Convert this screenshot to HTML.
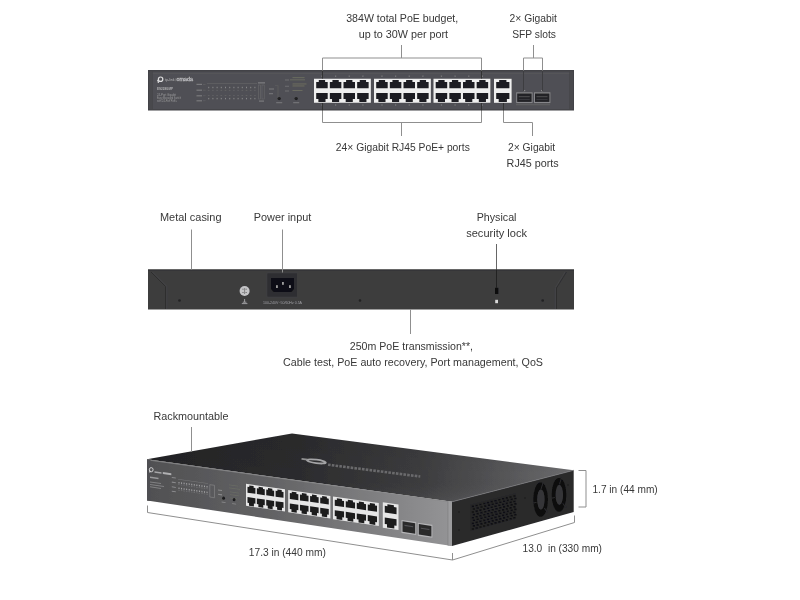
<!DOCTYPE html>
<html><head><meta charset="utf-8"><style>
html,body{margin:0;padding:0;background:#fff;width:800px;height:600px;overflow:hidden}
svg{display:block;font-family:"Liberation Sans",sans-serif;will-change:transform}
</style></head><body>
<svg width="800" height="600" viewBox="0 0 800 600">
<defs><filter id="bl" x="0" y="0" width="800" height="600" filterUnits="userSpaceOnUse"><feGaussianBlur stdDeviation="0.4"/></filter></defs>
<rect width="800" height="600" fill="#fff"/>
<g filter="url(#bl)">
<text x="346.2" y="22.2" textLength="112" lengthAdjust="spacingAndGlyphs" font-size="11.7" fill="#383838" >384W total PoE budget,</text>
<text x="358.7" y="37.9" textLength="89.4" lengthAdjust="spacingAndGlyphs" font-size="11.7" fill="#383838" >up to 30W per port</text>
<text x="509.6" y="21.8" textLength="47.3" lengthAdjust="spacingAndGlyphs" font-size="11.7" fill="#383838" >2× Gigabit</text>
<text x="512.2" y="37.8" textLength="43.8" lengthAdjust="spacingAndGlyphs" font-size="11.7" fill="#383838" >SFP slots</text>
<text x="335.8" y="151.3" textLength="134" lengthAdjust="spacingAndGlyphs" font-size="11.7" fill="#383838" >24× Gigabit RJ45 PoE+ ports</text>
<text x="508" y="151.3" textLength="47.2" lengthAdjust="spacingAndGlyphs" font-size="11.7" fill="#383838" >2× Gigabit</text>
<text x="506.6" y="167" textLength="52.1" lengthAdjust="spacingAndGlyphs" font-size="11.7" fill="#383838" >RJ45 ports</text>
<text x="160" y="221.2" textLength="61.5" lengthAdjust="spacingAndGlyphs" font-size="11.7" fill="#383838" >Metal casing</text>
<text x="253.8" y="221.2" textLength="57.5" lengthAdjust="spacingAndGlyphs" font-size="11.7" fill="#383838" >Power input</text>
<text x="476.7" y="221" textLength="39.8" lengthAdjust="spacingAndGlyphs" font-size="11.7" fill="#383838" >Physical</text>
<text x="466.2" y="236.7" textLength="60.8" lengthAdjust="spacingAndGlyphs" font-size="11.7" fill="#383838" >security lock</text>
<text x="349.8" y="350.4" textLength="123.2" lengthAdjust="spacingAndGlyphs" font-size="11.7" fill="#383838" >250m PoE transmission**,</text>
<text x="283" y="366.1" textLength="260" lengthAdjust="spacingAndGlyphs" font-size="11.7" fill="#383838" >Cable test, PoE auto recovery, Port management, QoS</text>
<text x="153.5" y="420" textLength="75" lengthAdjust="spacingAndGlyphs" font-size="11.7" fill="#383838" >Rackmountable</text>
<text x="248.8" y="555.5" textLength="77" lengthAdjust="spacingAndGlyphs" font-size="11.7" fill="#383838" >17.3 in (440 mm)</text>
<text x="522.5" y="552" textLength="79.5" lengthAdjust="spacingAndGlyphs" font-size="11.7" fill="#383838" >13.0&#160; in (330 mm)</text>
<text x="592.5" y="493.3" textLength="65.2" lengthAdjust="spacingAndGlyphs" font-size="11.7" fill="#383838" >1.7 in (44 mm)</text>
<rect x="148" y="70" width="426" height="40.5" fill="#424246"/>
<rect x="149.3" y="71.6" width="423.4" height="37.6" fill="#505054"/>
<rect x="149.3" y="73.4" width="423.4" height="0.5" fill="#5a5a5e"/>
<rect x="149.3" y="71.6" width="3" height="37.6" fill="#4a4a4e"/>
<rect x="569.7" y="71.6" width="3" height="37.6" fill="#4a4a4e"/>
<rect x="152.3" y="71.6" width="0.6" height="37.6" fill="#444448"/>
<rect x="569.1" y="71.6" width="0.6" height="37.6" fill="#444448"/>
<circle cx="160.6" cy="79.2" r="2.2" fill="none" stroke="#dcdcde" stroke-width="1.2"/>
<path d="M158.3,79.5 v3.6 M157.2,80.6 h1.6" stroke="#dcdcde" stroke-width="1.1"/>
<text x="165" y="81" textLength="9.5" lengthAdjust="spacingAndGlyphs" font-size="4.2" fill="#b4b4b8">tp-link</text>
<rect x="175.3" y="78.2" width="0.4" height="3" fill="#88888c"/>
<text x="176.5" y="81.2" textLength="16.5" lengthAdjust="spacingAndGlyphs" font-size="4.6" fill="none" stroke="#c0c0c4" stroke-width="0.35">omada</text>
<text x="157" y="89.8" textLength="16" lengthAdjust="spacingAndGlyphs" font-size="3.2" fill="#b0b0b4" font-weight="bold">ES228GMP</text>
<text x="157" y="95.6" textLength="19" lengthAdjust="spacingAndGlyphs" font-size="2.9" fill="#9a9a9e">24-Port Gigabit</text>
<text x="157" y="98.8" textLength="24" lengthAdjust="spacingAndGlyphs" font-size="2.9" fill="#9a9a9e">Easy Managed Switch</text>
<text x="157" y="102" textLength="20" lengthAdjust="spacingAndGlyphs" font-size="2.9" fill="#9a9a9e">with 24-Port PoE+</text>
<rect x="196.5" y="83.8" width="5.5" height="1.2" fill="#7a7a7e"/>
<rect x="203" y="84.0" width="2.5" height="0.7" fill="#616165"/>
<rect x="196.5" y="89.6" width="5.5" height="1.2" fill="#7a7a7e"/>
<rect x="203" y="89.8" width="2.5" height="0.7" fill="#616165"/>
<rect x="196.5" y="95.2" width="5.5" height="1.2" fill="#7a7a7e"/>
<rect x="203" y="95.4" width="2.5" height="0.7" fill="#616165"/>
<rect x="196.5" y="100.2" width="5.5" height="1.2" fill="#7a7a7e"/>
<rect x="203" y="100.4" width="2.5" height="0.7" fill="#616165"/>
<rect x="207" y="83.1" width="50" height="0.5" fill="#6a6a6e"/>
<rect x="208.2" y="86.8" width="1" height="1.4" fill="#86868a"/>
<rect x="208.2" y="97.9" width="1" height="1.4" fill="#86868a"/>
<rect x="207.9" y="89.9" width="1.6" height="0.8" fill="#646468"/>
<rect x="207.9" y="95.0" width="1.6" height="0.8" fill="#646468"/>
<rect x="212.4" y="86.8" width="1" height="1.4" fill="#86868a"/>
<rect x="212.4" y="97.9" width="1" height="1.4" fill="#86868a"/>
<rect x="212.1" y="89.9" width="1.6" height="0.8" fill="#646468"/>
<rect x="212.1" y="95.0" width="1.6" height="0.8" fill="#646468"/>
<rect x="216.6" y="86.8" width="1" height="1.4" fill="#86868a"/>
<rect x="216.6" y="97.9" width="1" height="1.4" fill="#86868a"/>
<rect x="216.3" y="89.9" width="1.6" height="0.8" fill="#646468"/>
<rect x="216.3" y="95.0" width="1.6" height="0.8" fill="#646468"/>
<rect x="220.8" y="86.8" width="1" height="1.4" fill="#86868a"/>
<rect x="220.8" y="97.9" width="1" height="1.4" fill="#86868a"/>
<rect x="220.5" y="89.9" width="1.6" height="0.8" fill="#646468"/>
<rect x="220.5" y="95.0" width="1.6" height="0.8" fill="#646468"/>
<rect x="225" y="86.8" width="1" height="1.4" fill="#86868a"/>
<rect x="225" y="97.9" width="1" height="1.4" fill="#86868a"/>
<rect x="224.7" y="89.9" width="1.6" height="0.8" fill="#646468"/>
<rect x="224.7" y="95.0" width="1.6" height="0.8" fill="#646468"/>
<rect x="229.2" y="86.8" width="1" height="1.4" fill="#86868a"/>
<rect x="229.2" y="97.9" width="1" height="1.4" fill="#86868a"/>
<rect x="228.9" y="89.9" width="1.6" height="0.8" fill="#646468"/>
<rect x="228.9" y="95.0" width="1.6" height="0.8" fill="#646468"/>
<rect x="233.4" y="86.8" width="1" height="1.4" fill="#86868a"/>
<rect x="233.4" y="97.9" width="1" height="1.4" fill="#86868a"/>
<rect x="233.1" y="89.9" width="1.6" height="0.8" fill="#646468"/>
<rect x="233.1" y="95.0" width="1.6" height="0.8" fill="#646468"/>
<rect x="237.6" y="86.8" width="1" height="1.4" fill="#86868a"/>
<rect x="237.6" y="97.9" width="1" height="1.4" fill="#86868a"/>
<rect x="237.3" y="89.9" width="1.6" height="0.8" fill="#646468"/>
<rect x="237.3" y="95.0" width="1.6" height="0.8" fill="#646468"/>
<rect x="241.8" y="86.8" width="1" height="1.4" fill="#86868a"/>
<rect x="241.8" y="97.9" width="1" height="1.4" fill="#86868a"/>
<rect x="241.5" y="89.9" width="1.6" height="0.8" fill="#646468"/>
<rect x="241.5" y="95.0" width="1.6" height="0.8" fill="#646468"/>
<rect x="246" y="86.8" width="1" height="1.4" fill="#86868a"/>
<rect x="246" y="97.9" width="1" height="1.4" fill="#86868a"/>
<rect x="245.7" y="89.9" width="1.6" height="0.8" fill="#646468"/>
<rect x="245.7" y="95.0" width="1.6" height="0.8" fill="#646468"/>
<rect x="250.2" y="86.8" width="1" height="1.4" fill="#86868a"/>
<rect x="250.2" y="97.9" width="1" height="1.4" fill="#86868a"/>
<rect x="249.9" y="89.9" width="1.6" height="0.8" fill="#646468"/>
<rect x="249.9" y="95.0" width="1.6" height="0.8" fill="#646468"/>
<rect x="254.4" y="86.8" width="1" height="1.4" fill="#86868a"/>
<rect x="254.4" y="97.9" width="1" height="1.4" fill="#86868a"/>
<rect x="254.1" y="89.9" width="1.6" height="0.8" fill="#646468"/>
<rect x="254.1" y="95.0" width="1.6" height="0.8" fill="#646468"/>
<rect x="258" y="82.2" width="7" height="1.3" fill="#7a7a7e"/>
<rect x="258.5" y="85" width="2.2" height="14" fill="none" stroke="#6c6c70" stroke-width="0.5"/>
<rect x="262" y="85" width="2.2" height="14" fill="none" stroke="#6c6c70" stroke-width="0.5"/>
<rect x="259" y="100.5" width="5" height="1.2" fill="#7a7a7e"/>
<rect x="269" y="88.5" width="5" height="1" fill="#7a7a7e"/>
<rect x="269" y="93.2" width="4" height="1" fill="#7a7a7e"/>
<path d="M275,85.5 h3 v13" stroke="#606064" stroke-width="0.5" fill="none"/>
<circle cx="279.2" cy="98.6" r="1.7" fill="#202022"/>
<rect x="276.2" y="102.2" width="6" height="1" fill="#7a7a7e"/>
<circle cx="296.2" cy="98.6" r="1.7" fill="#202022"/>
<rect x="293.2" y="102.2" width="6" height="1" fill="#7a7a7e"/>
<rect x="292.5" y="77.2" width="12" height="0.9" fill="#6c6e60"/>
<rect x="290" y="79.4" width="15" height="0.9" fill="#6c6e60"/>
<rect x="292.5" y="83.5" width="14" height="0.9" fill="#6c6e60"/>
<rect x="292.5" y="85.5" width="12" height="0.9" fill="#6c6e60"/>
<rect x="292.5" y="90" width="10" height="0.9" fill="#6c6e60"/>
<rect x="285" y="79.6" width="4" height="0.8" fill="#76767a"/>
<rect x="285" y="85.8" width="4" height="0.8" fill="#76767a"/>
<rect x="285" y="90.6" width="4" height="0.8" fill="#76767a"/>
<path d="M314,78.8 L370.85,78.8 L370.85,102.8 L314,102.8Z" fill="#efefef" />
<path d="M316.2,81.9 L318.79,81.9 L318.79,80.1 L325.11,80.1 L325.11,81.9 L327.7,81.9 L327.7,88.2 L316.2,88.2Z" fill="#1f1f21" />
<path d="M316.2,93 L327.7,93 L327.7,99.1 L325.51,99.1 L325.51,102.1 L318.38,102.1 L318.38,99.1 L316.2,99.1Z" fill="#1f1f21" />
<path d="M329.85,81.9 L332.44,81.9 L332.44,80.1 L338.76,80.1 L338.76,81.9 L341.35,81.9 L341.35,88.2 L329.85,88.2Z" fill="#1f1f21" />
<path d="M329.85,93 L341.35,93 L341.35,99.1 L339.16,99.1 L339.16,102.1 L332.03,102.1 L332.03,99.1 L329.85,99.1Z" fill="#1f1f21" />
<path d="M343.5,81.9 L346.09,81.9 L346.09,80.1 L352.41,80.1 L352.41,81.9 L355,81.9 L355,88.2 L343.5,88.2Z" fill="#1f1f21" />
<path d="M343.5,93 L355,93 L355,99.1 L352.81,99.1 L352.81,102.1 L345.69,102.1 L345.69,99.1 L343.5,99.1Z" fill="#1f1f21" />
<path d="M357.15,81.9 L359.74,81.9 L359.74,80.1 L366.06,80.1 L366.06,81.9 L368.65,81.9 L368.65,88.2 L357.15,88.2Z" fill="#1f1f21" />
<path d="M357.15,93 L368.65,93 L368.65,99.1 L366.46,99.1 L366.46,102.1 L359.33,102.1 L359.33,99.1 L357.15,99.1Z" fill="#1f1f21" />
<path d="M374,78.8 L430.85,78.8 L430.85,102.8 L374,102.8Z" fill="#efefef" />
<path d="M376.2,81.9 L378.79,81.9 L378.79,80.1 L385.11,80.1 L385.11,81.9 L387.7,81.9 L387.7,88.2 L376.2,88.2Z" fill="#1f1f21" />
<path d="M376.2,93 L387.7,93 L387.7,99.1 L385.51,99.1 L385.51,102.1 L378.38,102.1 L378.38,99.1 L376.2,99.1Z" fill="#1f1f21" />
<path d="M389.85,81.9 L392.44,81.9 L392.44,80.1 L398.76,80.1 L398.76,81.9 L401.35,81.9 L401.35,88.2 L389.85,88.2Z" fill="#1f1f21" />
<path d="M389.85,93 L401.35,93 L401.35,99.1 L399.16,99.1 L399.16,102.1 L392.03,102.1 L392.03,99.1 L389.85,99.1Z" fill="#1f1f21" />
<path d="M403.5,81.9 L406.09,81.9 L406.09,80.1 L412.41,80.1 L412.41,81.9 L415,81.9 L415,88.2 L403.5,88.2Z" fill="#1f1f21" />
<path d="M403.5,93 L415,93 L415,99.1 L412.81,99.1 L412.81,102.1 L405.69,102.1 L405.69,99.1 L403.5,99.1Z" fill="#1f1f21" />
<path d="M417.15,81.9 L419.74,81.9 L419.74,80.1 L426.06,80.1 L426.06,81.9 L428.65,81.9 L428.65,88.2 L417.15,88.2Z" fill="#1f1f21" />
<path d="M417.15,93 L428.65,93 L428.65,99.1 L426.46,99.1 L426.46,102.1 L419.33,102.1 L419.33,99.1 L417.15,99.1Z" fill="#1f1f21" />
<path d="M433.5,78.8 L490.35,78.8 L490.35,102.8 L433.5,102.8Z" fill="#efefef" />
<path d="M435.7,81.9 L438.29,81.9 L438.29,80.1 L444.61,80.1 L444.61,81.9 L447.2,81.9 L447.2,88.2 L435.7,88.2Z" fill="#1f1f21" />
<path d="M435.7,93 L447.2,93 L447.2,99.1 L445.01,99.1 L445.01,102.1 L437.88,102.1 L437.88,99.1 L435.7,99.1Z" fill="#1f1f21" />
<path d="M449.35,81.9 L451.94,81.9 L451.94,80.1 L458.26,80.1 L458.26,81.9 L460.85,81.9 L460.85,88.2 L449.35,88.2Z" fill="#1f1f21" />
<path d="M449.35,93 L460.85,93 L460.85,99.1 L458.66,99.1 L458.66,102.1 L451.53,102.1 L451.53,99.1 L449.35,99.1Z" fill="#1f1f21" />
<path d="M463,81.9 L465.59,81.9 L465.59,80.1 L471.91,80.1 L471.91,81.9 L474.5,81.9 L474.5,88.2 L463,88.2Z" fill="#1f1f21" />
<path d="M463,93 L474.5,93 L474.5,99.1 L472.31,99.1 L472.31,102.1 L465.19,102.1 L465.19,99.1 L463,99.1Z" fill="#1f1f21" />
<path d="M476.65,81.9 L479.24,81.9 L479.24,80.1 L485.56,80.1 L485.56,81.9 L488.15,81.9 L488.15,88.2 L476.65,88.2Z" fill="#1f1f21" />
<path d="M476.65,93 L488.15,93 L488.15,99.1 L485.96,99.1 L485.96,102.1 L478.83,102.1 L478.83,99.1 L476.65,99.1Z" fill="#1f1f21" />
<path d="M494,78.8 L511.6,78.8 L511.6,102.8 L494,102.8Z" fill="#efefef" />
<path d="M496.2,81.9 L499.17,81.9 L499.17,80.1 L506.43,80.1 L506.43,81.9 L509.4,81.9 L509.4,88.2 L496.2,88.2Z" fill="#1f1f21" />
<path d="M496.2,93 L509.4,93 L509.4,99.1 L506.89,99.1 L506.89,102.1 L498.71,102.1 L498.71,99.1 L496.2,99.1Z" fill="#1f1f21" />
<rect x="321.35" y="75.5" width="1.2" height="1.4" fill="#77777b"/>
<rect x="321.35" y="104.3" width="1.2" height="1.4" fill="#77777b"/>
<rect x="335" y="75.5" width="1.2" height="1.4" fill="#77777b"/>
<rect x="335" y="104.3" width="1.2" height="1.4" fill="#77777b"/>
<rect x="348.65" y="75.5" width="1.2" height="1.4" fill="#77777b"/>
<rect x="348.65" y="104.3" width="1.2" height="1.4" fill="#77777b"/>
<rect x="362.3" y="75.5" width="1.2" height="1.4" fill="#77777b"/>
<rect x="362.3" y="104.3" width="1.2" height="1.4" fill="#77777b"/>
<rect x="381.35" y="75.5" width="1.2" height="1.4" fill="#77777b"/>
<rect x="381.35" y="104.3" width="1.2" height="1.4" fill="#77777b"/>
<rect x="395" y="75.5" width="1.2" height="1.4" fill="#77777b"/>
<rect x="395" y="104.3" width="1.2" height="1.4" fill="#77777b"/>
<rect x="408.65" y="75.5" width="1.2" height="1.4" fill="#77777b"/>
<rect x="408.65" y="104.3" width="1.2" height="1.4" fill="#77777b"/>
<rect x="422.3" y="75.5" width="1.2" height="1.4" fill="#77777b"/>
<rect x="422.3" y="104.3" width="1.2" height="1.4" fill="#77777b"/>
<rect x="440.85" y="75.5" width="1.2" height="1.4" fill="#77777b"/>
<rect x="440.85" y="104.3" width="1.2" height="1.4" fill="#77777b"/>
<rect x="454.5" y="75.5" width="1.2" height="1.4" fill="#77777b"/>
<rect x="454.5" y="104.3" width="1.2" height="1.4" fill="#77777b"/>
<rect x="468.15" y="75.5" width="1.2" height="1.4" fill="#77777b"/>
<rect x="468.15" y="104.3" width="1.2" height="1.4" fill="#77777b"/>
<rect x="481.8" y="75.5" width="1.2" height="1.4" fill="#77777b"/>
<rect x="481.8" y="104.3" width="1.2" height="1.4" fill="#77777b"/>
<rect x="516.2" y="92.3" width="16.4" height="10.8" fill="#86868a"/>
<rect x="517.2" y="93.5" width="14.4" height="8.4" fill="#222225"/>
<rect x="518.7" y="96.2" width="11" height="1" fill="#505054"/>
<rect x="518.7" y="99" width="11" height="0.8" fill="#404044"/>
<rect x="523.2" y="90" width="2" height="1.2" fill="#8a8a8e"/>
<rect x="534" y="92.3" width="16.4" height="10.8" fill="#86868a"/>
<rect x="535" y="93.5" width="14.4" height="8.4" fill="#222225"/>
<rect x="536.5" y="96.2" width="11" height="1" fill="#505054"/>
<rect x="536.5" y="99" width="11" height="0.8" fill="#404044"/>
<rect x="541" y="90" width="2" height="1.2" fill="#8a8a8e"/>
<rect x="516" y="104.5" width="34" height="0.6" fill="#6a6a6e"/>
<path d="M322.5,77 L322.5,58 L481.5,58 L481.5,77" stroke="#8f8f8f" stroke-width="1" fill="none"/>
<path d="M401.5,58 L401.5,45" stroke="#8f8f8f" stroke-width="1" fill="none"/>
<path d="M523.5,91 L523.5,58 L542.5,58 L542.5,91" stroke="#8f8f8f" stroke-width="1" fill="none"/>
<path d="M533.5,58 L533.5,45" stroke="#8f8f8f" stroke-width="1" fill="none"/>
<path d="M322.5,70.5 L322.5,78.5" stroke="#333" stroke-width="1" fill="none"/>
<path d="M481.5,70.5 L481.5,78.5" stroke="#333" stroke-width="1" fill="none"/>
<path d="M523.5,70.5 L523.5,91" stroke="#3c3c40" stroke-width="1" fill="none"/>
<path d="M542.5,70.5 L542.5,91" stroke="#3c3c40" stroke-width="1" fill="none"/>
<path d="M322.5,103 L322.5,122.5 L481.5,122.5 L481.5,103" stroke="#8f8f8f" stroke-width="1" fill="none"/>
<path d="M401.5,122.5 L401.5,136" stroke="#8f8f8f" stroke-width="1" fill="none"/>
<path d="M503.5,103 L503.5,122.5 L532.5,122.5 L532.5,136" stroke="#8f8f8f" stroke-width="1" fill="none"/>
<path d="M322.5,103 L322.5,110.5" stroke="#333" stroke-width="1" fill="none"/>
<path d="M481.5,103 L481.5,110.5" stroke="#333" stroke-width="1" fill="none"/>
<path d="M503.5,103 L503.5,110.5" stroke="#333" stroke-width="1" fill="none"/>
<rect x="148" y="269.5" width="426" height="40" fill="#3c3c3e"/>
<rect x="148" y="269.5" width="426" height="1.2" fill="#333335"/>
<path d="M151,272 L165.5,286.5 L165.5,309" stroke="#2c2c2e" stroke-width="0.9" fill="none"/>
<path d="M152.5,272 L166.8,286.3 L166.8,309" stroke="#4a4a4c" stroke-width="0.6" fill="none"/>
<path d="M566.5,272 L556.5,288 L556.5,309" stroke="#2c2c2e" stroke-width="0.9" fill="none"/>
<path d="M565,272 L555.3,287.6 L555.3,309" stroke="#4a4a4c" stroke-width="0.6" fill="none"/>
<circle cx="179.5" cy="300.5" r="1.3" fill="#222"/>
<circle cx="360" cy="300.5" r="1.3" fill="#222"/>
<circle cx="542.7" cy="300.5" r="1.3" fill="#222"/>
<rect x="267" y="273" width="30.5" height="24" fill="#2e2e30" stroke="#444446" stroke-width="0.5"/>
<path d="M271,278 h23 v11 l-2.5,3 h-18 l-2.5,-3 z" fill="#111112"/>
<rect x="276.3" y="285.2" width="1.3" height="2.8" fill="#d8d8d8"/>
<rect x="282.3" y="282" width="1.3" height="2.8" fill="#d8d8d8"/>
<rect x="289.3" y="285.2" width="1.3" height="2.8" fill="#d8d8d8"/>
<text x="263" y="304.2" textLength="39" lengthAdjust="spacingAndGlyphs" font-size="3.6" fill="#a0a0a2">100-240V~50/60Hz 0.5A</text>
<circle cx="244.6" cy="291" r="5" fill="#c4c4c6"/>
<path d="M242.2,289.2 h1.6 M245.4,289.2 h1.6 M242.2,292.5 h1.6 M245.4,292.5 h1.6 M244.6,288 v6" stroke="#7a7a7c" stroke-width="0.9"/>
<path d="M241.8,303.6 h5.6 M242.8,302.2 h3.6 M244.6,302 v-3" stroke="#a8a8aa" stroke-width="0.9"/>
<rect x="495" y="287.8" width="3.3" height="6.2" fill="#0a0a0a"/>
<rect x="495.2" y="299.8" width="2.8" height="3.4" fill="#d8d8d8"/>
<path d="M191.5,229.5 L191.5,269.5" stroke="#8f8f8f" stroke-width="1" fill="none"/>
<path d="M282.5,229.5 L282.5,272.5" stroke="#8f8f8f" stroke-width="1" fill="none"/>
<path d="M496.5,244 L496.5,269.5" stroke="#666" stroke-width="1" fill="none"/>
<path d="M496.5,269.5 L496.5,288" stroke="#222" stroke-width="1" fill="none"/>
<path d="M410.5,309.5 L410.5,334" stroke="#8f8f8f" stroke-width="1" fill="none"/>
<defs>
<linearGradient id="gtop" x1="147" y1="470" x2="573" y2="470" gradientUnits="userSpaceOnUse">
<stop offset="0" stop-color="#232325"/><stop offset="0.36" stop-color="#2c2c2e"/><stop offset="0.64" stop-color="#3c3c3e"/><stop offset="0.83" stop-color="#545456"/><stop offset="1" stop-color="#6c6c6e"/></linearGradient>
<linearGradient id="gtop2" x1="0" y1="440" x2="0" y2="500" gradientUnits="userSpaceOnUse">
<stop offset="0" stop-color="#000" stop-opacity="0.05"/><stop offset="0.6" stop-color="#000" stop-opacity="0"/><stop offset="1" stop-color="#fff" stop-opacity="0.05"/></linearGradient>
<linearGradient id="gfront" x1="147" y1="0" x2="452" y2="0" gradientUnits="userSpaceOnUse">
<stop offset="0" stop-color="#505052"/><stop offset="0.4" stop-color="#626264"/><stop offset="1" stop-color="#949496"/></linearGradient>
</defs>
<path d="M147,459.3 L292,433.4 L573.7,470.3 L452,501.7 Z" fill="url(#gtop)"/>
<path d="M147,459.3 L292,433.4 L573.7,470.3 L452,501.7 Z" fill="url(#gtop2)"/>
<path d="M147,459.3 L452,501.7 L452,546 L147,500.5 Z" fill="url(#gfront)"/>
<path d="M147,459.8 L452,502.2" stroke="#8a8a8c" stroke-width="0.8"/>
<path d="M447.8,501.11 L452,501.69 L452,546.01 L447.8,545.38Z" fill="#9c9c9e" />
<path d="M447.6,501.08 L448.3,501.18 L448.3,545.45 L447.6,545.35Z" fill="#7c7c7e" />
<path d="M147,459.3 L150.5,459.79 L150.5,501.02 L147,500.5Z" fill="#505052" />
<path d="M452,501.7 L573.7,470.3 L573.7,512 L452,546 Z" fill="#29292b"/>
<path d="M452.3,501.7 L573.7,470.3" stroke="#7a7a7c" stroke-width="0.8"/>
<path d="M246,483.81 L285,489.33 L285,511.6 L246,505.87Z" fill="#e6e6e6" />
<path d="M247.51,486.87 L249.28,487.12 L249.28,485.47 L253.62,486.08 L253.62,487.74 L255.4,487.99 L255.4,493.8 L247.51,492.66Z" fill="#1c1c1e" />
<path d="M247.51,497.08 L255.4,498.22 L255.4,503.84 L253.9,503.62 L253.9,506.39 L249.01,505.67 L249.01,502.91 L247.51,502.69Z" fill="#1c1c1e" />
<path d="M256.87,488.2 L258.65,488.45 L258.65,486.8 L262.99,487.41 L262.99,489.07 L264.76,489.32 L264.76,495.14 L256.87,494.01Z" fill="#1c1c1e" />
<path d="M256.87,498.43 L264.76,499.58 L264.76,505.21 L263.26,504.99 L263.26,507.76 L258.37,507.04 L258.37,504.28 L256.87,504.06Z" fill="#1c1c1e" />
<path d="M266.24,489.53 L268.01,489.79 L268.01,488.12 L272.35,488.74 L272.35,490.4 L274.13,490.66 L274.13,496.49 L266.24,495.35Z" fill="#1c1c1e" />
<path d="M266.24,499.79 L274.13,500.93 L274.13,506.58 L272.63,506.36 L272.63,509.13 L267.74,508.42 L267.74,505.64 L266.24,505.42Z" fill="#1c1c1e" />
<path d="M275.6,490.87 L277.38,491.12 L277.38,489.45 L281.72,490.07 L281.72,491.74 L283.49,491.99 L283.49,497.83 L275.6,496.7Z" fill="#1c1c1e" />
<path d="M275.6,501.14 L283.49,502.29 L283.49,507.95 L281.99,507.73 L281.99,510.51 L277.1,509.79 L277.1,507.01 L275.6,506.79Z" fill="#1c1c1e" />
<path d="M288.2,489.97 L330.4,495.95 L330.4,518.47 L288.2,512.26Z" fill="#e6e6e6" />
<path d="M289.83,493.09 L291.75,493.36 L291.75,491.69 L296.45,492.35 L296.45,494.03 L298.37,494.3 L298.37,500.17 L289.83,498.94Z" fill="#1c1c1e" />
<path d="M289.83,503.4 L298.37,504.63 L298.37,510.31 L296.75,510.08 L296.75,512.87 L291.46,512.09 L291.46,509.3 L289.83,509.07Z" fill="#1c1c1e" />
<path d="M299.97,494.53 L301.89,494.8 L301.89,493.12 L306.58,493.79 L306.58,495.47 L308.5,495.74 L308.5,501.62 L299.97,500.4Z" fill="#1c1c1e" />
<path d="M299.97,504.87 L308.5,506.1 L308.5,511.79 L306.88,511.56 L306.88,514.36 L301.59,513.58 L301.59,510.78 L299.97,510.55Z" fill="#1c1c1e" />
<path d="M310.1,495.97 L312.02,496.24 L312.02,494.56 L316.71,495.23 L316.71,496.91 L318.63,497.19 L318.63,503.08 L310.1,501.85Z" fill="#1c1c1e" />
<path d="M310.1,506.33 L318.63,507.57 L318.63,513.28 L317.01,513.04 L317.01,515.84 L311.72,515.07 L311.72,512.26 L310.1,512.03Z" fill="#1c1c1e" />
<path d="M320.23,497.41 L322.15,497.69 L322.15,496 L326.85,496.67 L326.85,498.35 L328.77,498.63 L328.77,504.54 L320.23,503.31Z" fill="#1c1c1e" />
<path d="M320.23,507.8 L328.77,509.04 L328.77,514.76 L327.14,514.52 L327.14,517.33 L321.85,516.55 L321.85,513.75 L320.23,513.51Z" fill="#1c1c1e" />
<path d="M333,496.52 L378.8,503.01 L378.8,526.07 L333,519.34Z" fill="#e6e6e6" />
<path d="M334.77,499.72 L336.86,500.01 L336.86,498.3 L341.95,499.02 L341.95,500.74 L344.04,501.04 L344.04,507.04 L334.77,505.71Z" fill="#1c1c1e" />
<path d="M334.77,510.28 L344.04,511.62 L344.04,517.43 L342.28,517.18 L342.28,520.04 L336.53,519.19 L336.53,516.34 L334.77,516.08Z" fill="#1c1c1e" />
<path d="M345.77,501.28 L347.85,501.58 L347.85,499.86 L352.95,500.58 L352.95,502.3 L355.03,502.6 L355.03,508.62 L345.77,507.29Z" fill="#1c1c1e" />
<path d="M345.77,511.87 L355.03,513.21 L355.03,519.04 L353.27,518.78 L353.27,521.65 L347.53,520.81 L347.53,517.94 L345.77,517.69Z" fill="#1c1c1e" />
<path d="M356.77,502.85 L358.85,503.14 L358.85,501.42 L363.95,502.15 L363.95,503.87 L366.03,504.17 L366.03,510.2 L356.77,508.87Z" fill="#1c1c1e" />
<path d="M356.77,513.46 L366.03,514.8 L366.03,520.65 L364.27,520.39 L364.27,523.27 L358.53,522.42 L358.53,519.55 L356.77,519.3Z" fill="#1c1c1e" />
<path d="M367.76,504.41 L369.85,504.71 L369.85,502.98 L374.94,503.71 L374.94,505.44 L377.03,505.73 L377.03,511.79 L367.76,510.45Z" fill="#1c1c1e" />
<path d="M367.76,515.06 L377.03,516.4 L377.03,522.26 L375.27,522 L375.27,524.88 L369.52,524.04 L369.52,521.16 L367.76,520.9Z" fill="#1c1c1e" />
<path d="M382.8,502.18 L398.5,504.4 L398.5,529.97 L382.8,527.65Z" fill="#e6e6e6" />
<path d="M384.76,505.75 L387.41,506.13 L387.41,504.22 L393.89,505.14 L393.89,507.05 L396.54,507.43 L396.54,514.13 L384.76,512.44Z" fill="#1c1c1e" />
<path d="M384.76,517.54 L396.54,519.24 L396.54,525.74 L394.3,525.41 L394.3,528.6 L387,527.53 L387,524.34 L384.76,524.01Z" fill="#1c1c1e" />
<path d="M401.5,519.96 L416.2,522.09 L416.2,535.07 L401.5,532.9Z" fill="#b4b4b6" />
<path d="M402.5,521.3 L415.2,523.14 L415.2,533.63 L402.5,531.75Z" fill="#2a2a2c" />
<path d="M404.5,524.87 L413.2,526.14 L413.2,527.34 L404.5,526.07Z" fill="#555557" />
<path d="M417.8,522.72 L432.4,524.84 L432.4,537.87 L417.8,535.71Z" fill="#b4b4b6" />
<path d="M418.8,524.06 L431.4,525.89 L431.4,536.42 L418.8,534.56Z" fill="#2a2a2c" />
<path d="M420.8,527.65 L429.4,528.91 L429.4,530.11 L420.8,528.85Z" fill="#555557" />
<ellipse cx="151.2" cy="469.73" rx="1.9" ry="2.1" fill="none" stroke="#d0d0d2" stroke-width="1"/>
<path d="M149.3,469.55 L150.2,469.68 L150.2,472.68 L149.3,472.55Z" fill="#d0d0d2" />
<path d="M154.5,471.22 L161.5,472.22 L161.5,473.63 L154.5,472.63Z" fill="#a6a6a8" />
<path d="M162.8,472.12 L171.3,473.32 L171.3,475.21 L162.8,474Z" fill="#b0b0b2" />
<path d="M150,476.58 L158.5,477.8 L158.5,479.21 L150,477.99Z" fill="#9a9a9c" />
<path d="M150,481.46 L161,483.04 L161,484.08 L150,482.49Z" fill="#828284" />
<path d="M150,483.89 L164,485.92 L164,486.96 L150,484.92Z" fill="#828284" />
<path d="M150,486.33 L161,487.93 L161,488.96 L150,487.36Z" fill="#828284" />
<path d="M171.8,476.88 L175.8,477.45 L175.8,478.49 L171.8,477.92Z" fill="#8a8a8c" />
<path d="M171.8,481.59 L175.8,482.16 L175.8,483.2 L171.8,482.63Z" fill="#8a8a8c" />
<path d="M171.8,486.3 L175.8,486.88 L175.8,487.92 L171.8,487.34Z" fill="#8a8a8c" />
<path d="M171.8,490.63 L175.8,491.22 L175.8,492.25 L171.8,491.67Z" fill="#8a8a8c" />
<path d="M178,479.08 L208,483.37 L208,483.84 L178,479.55Z" fill="#78787a" />
<path d="M178.5,481.89 L179.5,482.03 L179.5,483.54 L178.5,483.4Z" fill="#a4a4a6" />
<path d="M178.5,487.46 L179.5,487.6 L179.5,489.11 L178.5,488.97Z" fill="#a4a4a6" />
<path d="M178.3,484.22 L179.7,484.42 L179.7,485.08 L178.3,484.88Z" fill="#767678" />
<path d="M178.3,489.79 L179.7,489.99 L179.7,490.65 L178.3,490.45Z" fill="#767678" />
<path d="M181.05,482.26 L182.05,482.4 L182.05,483.91 L181.05,483.77Z" fill="#a4a4a6" />
<path d="M181.05,487.83 L182.05,487.97 L182.05,489.48 L181.05,489.34Z" fill="#a4a4a6" />
<path d="M180.85,484.59 L182.25,484.79 L182.25,485.45 L180.85,485.25Z" fill="#767678" />
<path d="M180.85,490.16 L182.25,490.36 L182.25,491.02 L180.85,490.82Z" fill="#767678" />
<path d="M183.6,482.62 L184.6,482.77 L184.6,484.28 L183.6,484.13Z" fill="#a4a4a6" />
<path d="M183.6,488.2 L184.6,488.34 L184.6,489.85 L183.6,489.71Z" fill="#a4a4a6" />
<path d="M183.4,484.96 L184.8,485.16 L184.8,485.82 L183.4,485.62Z" fill="#767678" />
<path d="M183.4,490.53 L184.8,490.73 L184.8,491.4 L183.4,491.19Z" fill="#767678" />
<path d="M186.15,482.99 L187.15,483.13 L187.15,484.65 L186.15,484.5Z" fill="#a4a4a6" />
<path d="M186.15,488.57 L187.15,488.71 L187.15,490.22 L186.15,490.08Z" fill="#a4a4a6" />
<path d="M185.95,485.32 L187.35,485.53 L187.35,486.19 L185.95,485.99Z" fill="#767678" />
<path d="M185.95,490.9 L187.35,491.11 L187.35,491.77 L185.95,491.56Z" fill="#767678" />
<path d="M188.7,483.35 L189.7,483.5 L189.7,485.01 L188.7,484.87Z" fill="#a4a4a6" />
<path d="M188.7,488.94 L189.7,489.08 L189.7,490.6 L188.7,490.45Z" fill="#a4a4a6" />
<path d="M188.5,485.69 L189.9,485.89 L189.9,486.56 L188.5,486.35Z" fill="#767678" />
<path d="M188.5,491.27 L189.9,491.48 L189.9,492.14 L188.5,491.93Z" fill="#767678" />
<path d="M191.25,483.72 L192.25,483.86 L192.25,485.38 L191.25,485.24Z" fill="#a4a4a6" />
<path d="M191.25,489.31 L192.25,489.45 L192.25,490.97 L191.25,490.82Z" fill="#a4a4a6" />
<path d="M191.05,486.06 L192.45,486.26 L192.45,486.92 L191.05,486.72Z" fill="#767678" />
<path d="M191.05,491.64 L192.45,491.85 L192.45,492.51 L191.05,492.31Z" fill="#767678" />
<path d="M193.8,484.09 L194.8,484.23 L194.8,485.75 L193.8,485.6Z" fill="#a4a4a6" />
<path d="M193.8,489.67 L194.8,489.82 L194.8,491.34 L193.8,491.19Z" fill="#a4a4a6" />
<path d="M193.6,486.43 L195,486.63 L195,487.29 L193.6,487.09Z" fill="#767678" />
<path d="M193.6,492.01 L195,492.22 L195,492.88 L193.6,492.68Z" fill="#767678" />
<path d="M196.35,484.45 L197.35,484.6 L197.35,486.11 L196.35,485.97Z" fill="#a4a4a6" />
<path d="M196.35,490.04 L197.35,490.19 L197.35,491.71 L196.35,491.56Z" fill="#a4a4a6" />
<path d="M196.15,486.79 L197.55,486.99 L197.55,487.66 L196.15,487.46Z" fill="#767678" />
<path d="M196.15,492.38 L197.55,492.59 L197.55,493.25 L196.15,493.05Z" fill="#767678" />
<path d="M198.9,484.82 L199.9,484.96 L199.9,486.48 L198.9,486.34Z" fill="#a4a4a6" />
<path d="M198.9,490.41 L199.9,490.56 L199.9,492.08 L198.9,491.93Z" fill="#a4a4a6" />
<path d="M198.7,487.16 L200.1,487.36 L200.1,488.03 L198.7,487.82Z" fill="#767678" />
<path d="M198.7,492.76 L200.1,492.96 L200.1,493.62 L198.7,493.42Z" fill="#767678" />
<path d="M201.45,485.18 L202.45,485.33 L202.45,486.85 L201.45,486.7Z" fill="#a4a4a6" />
<path d="M201.45,490.78 L202.45,490.93 L202.45,492.45 L201.45,492.3Z" fill="#a4a4a6" />
<path d="M201.25,487.53 L202.65,487.73 L202.65,488.39 L201.25,488.19Z" fill="#767678" />
<path d="M201.25,493.13 L202.65,493.33 L202.65,493.99 L201.25,493.79Z" fill="#767678" />
<path d="M204,485.55 L205,485.69 L205,487.21 L204,487.07Z" fill="#a4a4a6" />
<path d="M204,491.15 L205,491.3 L205,492.82 L204,492.67Z" fill="#a4a4a6" />
<path d="M203.8,487.89 L205.2,488.1 L205.2,488.76 L203.8,488.56Z" fill="#767678" />
<path d="M203.8,493.5 L205.2,493.7 L205.2,494.37 L203.8,494.16Z" fill="#767678" />
<path d="M206.55,485.92 L207.55,486.06 L207.55,487.58 L206.55,487.44Z" fill="#a4a4a6" />
<path d="M206.55,491.52 L207.55,491.67 L207.55,493.19 L206.55,493.04Z" fill="#a4a4a6" />
<path d="M206.35,488.26 L207.75,488.46 L207.75,489.13 L206.35,488.93Z" fill="#767678" />
<path d="M206.35,493.87 L207.75,494.07 L207.75,494.74 L206.35,494.53Z" fill="#767678" />
<path d="M209.8,484.67 L214.5,485.34 L214.5,497.72 L209.8,497.03Z" fill="none" stroke="#8a8a8c" stroke-width="0.6"/>
<path d="M218,489.46 L222,490.04 L222,491.09 L218,490.51Z" fill="#8a8a8c" />
<path d="M218,493.75 L222,494.33 L222,495.38 L218,494.8Z" fill="#8a8a8c" />
<path d="M229,484.55 L238,485.83 L238,486.6 L229,485.32Z" fill="#6a6c64" />
<path d="M229,487.42 L240,488.99 L240,489.76 L229,488.18Z" fill="#6a6c64" />
<path d="M230,491.38 L239,492.68 L239,493.44 L230,492.15Z" fill="#6a6c64" />
<path d="M230,494.25 L239,495.55 L239,496.32 L230,495.01Z" fill="#6a6c64" />
<path d="M230,497.59 L237,498.61 L237,499.38 L230,498.36Z" fill="#6a6c64" />
<ellipse cx="223.6" cy="498.19" rx="1.4" ry="1.6" fill="#1a1a1c"/>
<path d="M221.6,501.62 L225.6,502.2 L225.6,503.06 L221.6,502.48Z" fill="#8a8a8c" />
<ellipse cx="234.1" cy="499.72" rx="1.4" ry="1.6" fill="#1a1a1c"/>
<path d="M232.1,503.16 L236.1,503.75 L236.1,504.61 L232.1,504.02Z" fill="#8a8a8c" />
<path d="M470.2,504.7 L516,493.2 L516,518.5 L470.2,531Z" fill="#262628" />
<path d="M471.8,505.6h2.2v1.6h-2.2z M475.57,504.65h2.2v1.6h-2.2z M479.35,503.71h2.2v1.6h-2.2z M483.12,502.76h2.2v1.6h-2.2z M486.89,501.81h2.2v1.6h-2.2z M490.66,500.87h2.2v1.6h-2.2z M494.44,499.92h2.2v1.6h-2.2z M498.21,498.97h2.2v1.6h-2.2z M501.98,498.02h2.2v1.6h-2.2z M505.75,497.08h2.2v1.6h-2.2z M509.53,496.13h2.2v1.6h-2.2z M513.3,495.18h2.2v1.6h-2.2z M472.8,508.17h2.2v1.6h-2.2z M476.57,507.22h2.2v1.6h-2.2z M480.35,506.26h2.2v1.6h-2.2z M484.12,505.3h2.2v1.6h-2.2z M487.89,504.35h2.2v1.6h-2.2z M491.66,503.39h2.2v1.6h-2.2z M495.44,502.44h2.2v1.6h-2.2z M499.21,501.48h2.2v1.6h-2.2z M502.98,500.52h2.2v1.6h-2.2z M506.75,499.57h2.2v1.6h-2.2z M510.53,498.61h2.2v1.6h-2.2z M514.3,497.66h2.2v1.6h-2.2z M471.8,511.25h2.2v1.6h-2.2z M475.57,510.29h2.2v1.6h-2.2z M479.35,509.32h2.2v1.6h-2.2z M483.12,508.36h2.2v1.6h-2.2z M486.89,507.39h2.2v1.6h-2.2z M490.66,506.43h2.2v1.6h-2.2z M494.44,505.46h2.2v1.6h-2.2z M498.21,504.5h2.2v1.6h-2.2z M501.98,503.53h2.2v1.6h-2.2z M505.75,502.57h2.2v1.6h-2.2z M509.53,501.6h2.2v1.6h-2.2z M513.3,500.64h2.2v1.6h-2.2z M472.8,513.82h2.2v1.6h-2.2z M476.57,512.84h2.2v1.6h-2.2z M480.35,511.87h2.2v1.6h-2.2z M484.12,510.9h2.2v1.6h-2.2z M487.89,509.92h2.2v1.6h-2.2z M491.66,508.95h2.2v1.6h-2.2z M495.44,507.97h2.2v1.6h-2.2z M499.21,507h2.2v1.6h-2.2z M502.98,506.03h2.2v1.6h-2.2z M506.75,505.05h2.2v1.6h-2.2z M510.53,504.08h2.2v1.6h-2.2z M514.3,503.1h2.2v1.6h-2.2z M471.8,516.9h2.2v1.6h-2.2z M475.57,515.92h2.2v1.6h-2.2z M479.35,514.93h2.2v1.6h-2.2z M483.12,513.95h2.2v1.6h-2.2z M486.89,512.97h2.2v1.6h-2.2z M490.66,511.99h2.2v1.6h-2.2z M494.44,511h2.2v1.6h-2.2z M498.21,510.02h2.2v1.6h-2.2z M501.98,509.04h2.2v1.6h-2.2z M505.75,508.05h2.2v1.6h-2.2z M509.53,507.07h2.2v1.6h-2.2z M513.3,506.09h2.2v1.6h-2.2z M472.8,519.46h2.2v1.6h-2.2z M476.57,518.47h2.2v1.6h-2.2z M480.35,517.48h2.2v1.6h-2.2z M484.12,516.49h2.2v1.6h-2.2z M487.89,515.5h2.2v1.6h-2.2z M491.66,514.5h2.2v1.6h-2.2z M495.44,513.51h2.2v1.6h-2.2z M499.21,512.52h2.2v1.6h-2.2z M502.98,511.53h2.2v1.6h-2.2z M506.75,510.54h2.2v1.6h-2.2z M510.53,509.54h2.2v1.6h-2.2z M514.3,508.55h2.2v1.6h-2.2z M471.8,522.55h2.2v1.6h-2.2z M475.57,521.55h2.2v1.6h-2.2z M479.35,520.55h2.2v1.6h-2.2z M483.12,519.55h2.2v1.6h-2.2z M486.89,518.55h2.2v1.6h-2.2z M490.66,517.55h2.2v1.6h-2.2z M494.44,516.55h2.2v1.6h-2.2z M498.21,515.54h2.2v1.6h-2.2z M501.98,514.54h2.2v1.6h-2.2z M505.75,513.54h2.2v1.6h-2.2z M509.53,512.54h2.2v1.6h-2.2z M513.3,511.54h2.2v1.6h-2.2z M472.8,525.11h2.2v1.6h-2.2z M476.57,524.1h2.2v1.6h-2.2z M480.35,523.09h2.2v1.6h-2.2z M484.12,522.08h2.2v1.6h-2.2z M487.89,521.07h2.2v1.6h-2.2z M491.66,520.06h2.2v1.6h-2.2z M495.44,519.05h2.2v1.6h-2.2z M499.21,518.04h2.2v1.6h-2.2z M502.98,517.03h2.2v1.6h-2.2z M506.75,516.02h2.2v1.6h-2.2z M510.53,515.01h2.2v1.6h-2.2z M514.3,514h2.2v1.6h-2.2z M471.8,528.2h2.2v1.6h-2.2z M475.57,527.18h2.2v1.6h-2.2z M479.35,526.16h2.2v1.6h-2.2z M483.12,525.14h2.2v1.6h-2.2z M486.89,524.13h2.2v1.6h-2.2z M490.66,523.11h2.2v1.6h-2.2z M494.44,522.09h2.2v1.6h-2.2z M498.21,521.07h2.2v1.6h-2.2z M501.98,520.05h2.2v1.6h-2.2z M505.75,519.03h2.2v1.6h-2.2z M509.53,518.01h2.2v1.6h-2.2z M513.3,517h2.2v1.6h-2.2z" fill="#111113"/>
<circle cx="459" cy="512" r="0.8" fill="#161618"/>
<circle cx="459" cy="530" r="0.8" fill="#161618"/>
<circle cx="525" cy="498" r="0.8" fill="#161618"/>
<circle cx="568" cy="485" r="0.8" fill="#161618"/>
<ellipse cx="540.6" cy="499.6" rx="7.3" ry="17.1" fill="#0b0b0c"/>
<ellipse cx="540.9" cy="499.6" rx="3.796" ry="10.26" fill="#363638"/>
<path d="M541.1,489 L543.1,482.16" stroke="#2a2a2c" stroke-width="1.1"/>
<path d="M544.25,508.15 L547.53,512.43" stroke="#2a2a2c" stroke-width="1.1"/>
<path d="M536.59,502.17 L533.3,503.02" stroke="#2a2a2c" stroke-width="1.1"/>
<ellipse cx="559.0" cy="494.8" rx="7.3" ry="16.9" fill="#0b0b0c"/>
<ellipse cx="559.3" cy="494.8" rx="3.796" ry="10.139999999999999" fill="#363638"/>
<path d="M559.5,484.32 L561.5,477.56" stroke="#2a2a2c" stroke-width="1.1"/>
<path d="M562.65,503.25 L565.93,507.48" stroke="#2a2a2c" stroke-width="1.1"/>
<path d="M554.99,497.34 L551.7,498.18" stroke="#2a2a2c" stroke-width="1.1"/>
<g transform="translate(301.5,459.3) rotate(7.3)"><ellipse cx="15" cy="0.2" rx="9.5" ry="1.7" fill="none" stroke="#a4a4a6" stroke-width="1.8"/><path d="M0,-0.4 h6" stroke="#909092" stroke-width="1.6"/><path d="M27,2 h93" stroke="#6a6a6c" stroke-width="2.6" stroke-dasharray="2.6 1.2"/></g>
<path d="M191.5,427 L191.5,451.8" stroke="#8f8f8f" stroke-width="1" fill="none"/>
<path d="M147.5,505.5 L147.5,512.5 L452.5,560 L574.5,522.5 L574.5,515.5" stroke="#8f8f8f" stroke-width="1" fill="none"/>
<path d="M452.5,553 L452.5,560" stroke="#8f8f8f" stroke-width="1" fill="none"/>
<path d="M578.5,470.5 L586,470.5 L586,507 L578.5,507" stroke="#8f8f8f" stroke-width="1" fill="none"/>
</g>
</svg></body></html>
